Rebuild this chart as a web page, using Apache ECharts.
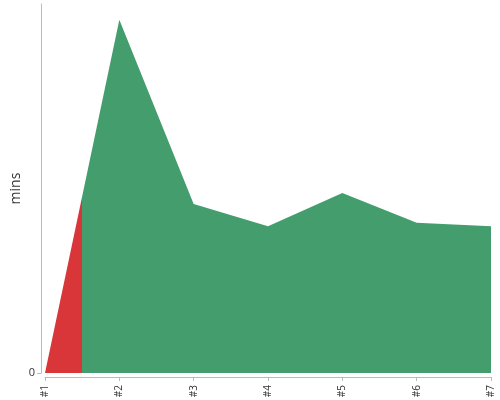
<!DOCTYPE html>
<html>
<head>
<meta charset="utf-8">
<script src="https://cdn.jsdelivr.net/npm/echarts@6/dist/echarts.min.js"></script>
<style>
  html, body { margin: 0; padding: 0; }
  #chart { width: 500px; height: 400px; }
</style>
</head>
<body>
<div id="chart"></div>
<script>
// runs, in minutes
const categories = ['#1', '#2', '#3', '#4', '#5', '#6', '#7']
const durations = [0, 95.7, 45.8, 39.8, 48.8, 40.7, 39.8]
const yTicks = [0]

const chart = echarts.init(document.getElementById('chart'))
const option = {
  animation: false,
  textStyle: {
    fontFamily: 'Open Sans',
  },
  grid: {
    left: 45,
    right: 9,
    top: 4,
    bottom: 27,
    outerBoundsMode: 'none',
  },
  visualMap: {
    type: 'piecewise',
    show: false,
    dimension: 0,
    pieces: [
      { gte: 0, lte: 0.5, color: '#d9363a' },
      { gt: 0.5, lte: 6, color: '#449d6d' },
    ],
  },
  // value axis so the colour split can sit between two runs
  xAxis: {
    type: 'value',
    min: 0,
    max: categories.length - 1,
    interval: 1,
    offset: 4,
    axisLine: {
      onZero: false,
      lineStyle: { color: '#bbbbbb' },
    },
    axisTick: {
      show: true,
      length: 4,
      lineStyle: { color: '#bbbbbb' },
    },
    axisLabel: {
      rotate: 90,
      fontSize: 10,
      color: '#333',
      margin: 8,
      formatter: (v) => categories[v] || '',
    },
    splitLine: { show: false },
  },
  yAxis: {
    type: 'value',
    min: 0,
    max: 100,
    offset: 4,
    name: 'mins',
    nameLocation: 'middle',
    nameGap: 18,
    nameMoveOverlap: false,
    nameTextStyle: {
      fontSize: 14,
      color: '#333',
    },
    axisLine: {
      show: true,
      onZero: false,
      lineStyle: { color: '#bbbbbb' },
    },
    axisTick: {
      show: true,
      length: 4,
      customValues: yTicks,
      lineStyle: { color: '#bbbbbb' },
    },
    axisLabel: {
      fontSize: 11,
      color: '#333',
      margin: 6,
      customValues: yTicks,
    },
    splitLine: { show: false },
  },
  series: [
    {
      type: 'line',
      data: durations.map((v, i) => [i, v]),
      symbol: 'none',
      lineStyle: { width: 0 },
      areaStyle: { opacity: 1 },
    },
  ],
}
chart.setOption(option)
</script>
</body>
</html>
